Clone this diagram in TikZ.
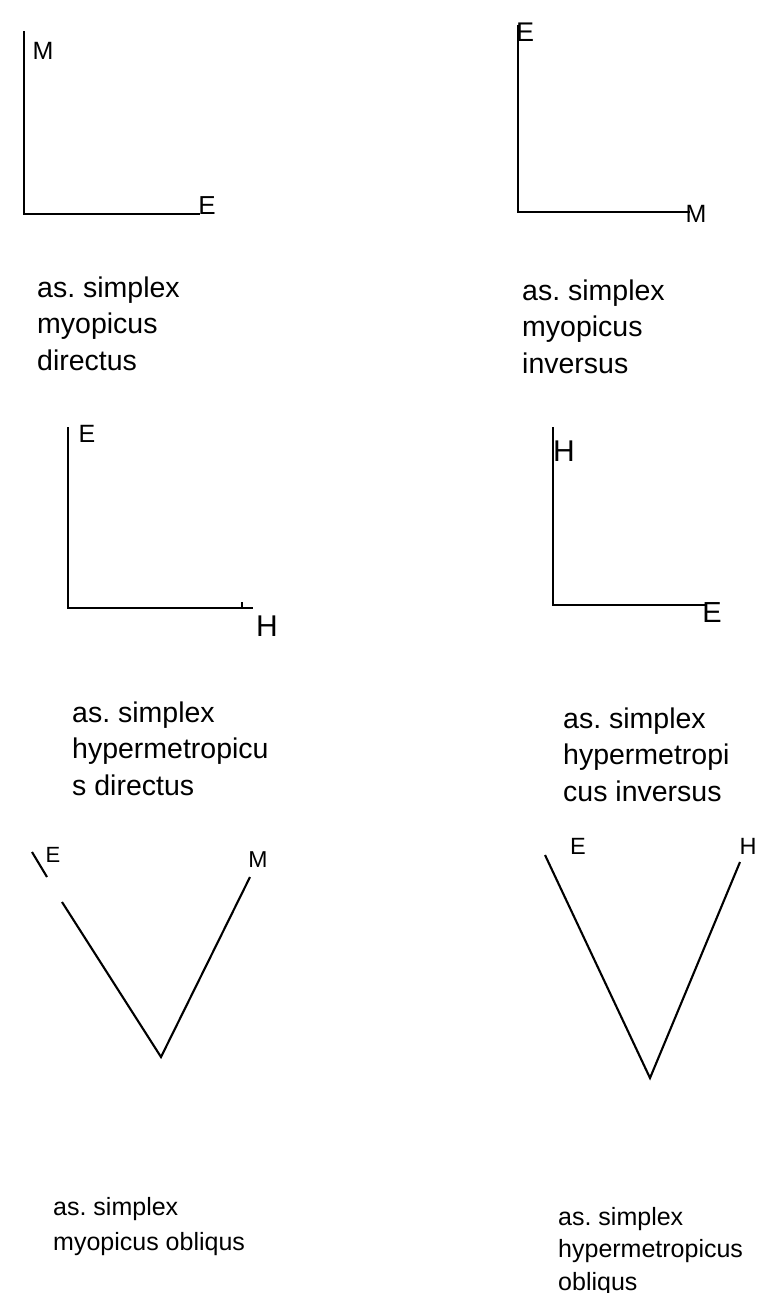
\documentclass[tikz,border=0pt]{standalone}
\usepackage{fontspec}
\setmainfont{Liberation Sans}
\frenchspacing
\begin{document}
\begin{tikzpicture}[x=1pt,y=-1pt,
  axis/.style={line width=2.8pt},
  vline/.style={line width=2.1pt},
  lab/.style={inner sep=0pt, font=\fontsize{#1}{#1}\selectfont},
  lab/.default=24,
  capA/.style={anchor=base west, inner sep=0pt, align=left, font=\frenchspacing\fontsize{28.5}{36.5}\selectfont},
  capB/.style={anchor=base west, inner sep=0pt, align=left, font=\frenchspacing\fontsize{25}{#1}\selectfont}]
\useasboundingbox[fill=white] (0,0) rectangle (758,1293);

% Panel 1
\coordinate (a1t) at (24,31);
\coordinate (a1o) at (24,214);
\coordinate (a1r) at (200,214);
\draw[axis] (a1t) -- (a1o) -- (a1r);
\node[lab=25] (a1M) at (43,51) {M};
\node[lab=26] (a1E) at (207,206) {E};
\node[capA] (c1) at (37,370) {as. simplex\\myopicus\\directus};

% Panel 2
\coordinate (a2t) at (518,25);
\coordinate (a2o) at (518,212);
\coordinate (a2r) at (690,212);
\draw[axis] (a2t) -- (a2o) -- (a2r);
\node[lab=27] (a2E) at (525,32) {E};
\node[lab=25] (a2M) at (696,214) {M};
\node[capA] (c2) at (522,373) {as. simplex\\myopicus\\inversus};

% Panel 3
\coordinate (a3t) at (68,427);
\coordinate (a3o) at (68,608);
\coordinate (a3r) at (253,608);
\coordinate (a3k) at (242,602);
\coordinate (a3kb) at (242,608);
\draw[axis] (a3t) -- (a3o) -- (a3r);
\draw[line width=1.6pt] (a3k) -- (a3kb);
\node[lab=25] (a3E) at (87,434) {E};
\node[lab=30] (a3H) at (267,626) {H};
\node[capA] (c3) at (72,795) {as. simplex\\hypermetropicu\\s directus};

% Panel 4
\coordinate (a4t) at (553,427);
\coordinate (a4o) at (553,605);
\coordinate (a4r) at (707,605);
\draw[axis] (a4t) -- (a4o) -- (a4r);
\node[lab=30] (a4H) at (564,451) {H};
\node[lab=29] (a4E) at (712,613) {E};
\node[capA] (c4) at (563,801) {as. simplex\\hypermetropi\\cus inversus};

% Panel 5
\coordinate (a5k) at (32,852);
\coordinate (a5kb) at (47,877);
\coordinate (a5l) at (62,902);
\coordinate (a5v) at (161,1057);
\coordinate (a5r) at (250,877);
\draw[vline] (a5k) -- (a5kb);
\draw[vline] (a5l) -- (a5v) -- (a5r);
\node[lab=22] (a5E) at (53,855) {E};
\node[lab=23] (a5M) at (258,860) {M};
\node[capB=35] (c5) at (53,1250) {as. simplex\\myopicus obliqus};

% Panel 6
\coordinate (a6l) at (545,855);
\coordinate (a6v) at (650,1078);
\coordinate (a6r) at (740,862);
\draw[vline] (a6l) -- (a6v) -- (a6r);
\node[lab=23.5] (a6E) at (578,846) {E};
\node[lab=23.5] (a6H) at (748,846) {H};
\node[capB=32.5] (c6) at (558,1290) {as. simplex\\hypermetropicus\\obliqus};
\end{tikzpicture}
\end{document}
